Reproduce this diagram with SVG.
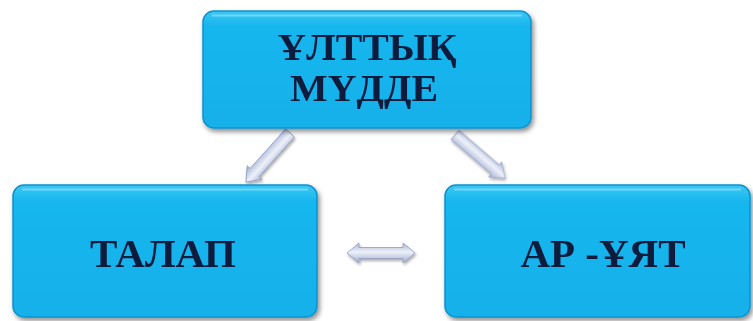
<svg xmlns="http://www.w3.org/2000/svg" width="753" height="321" viewBox="0 0 753 321">
<defs>
<linearGradient id="boxg" x1="0" y1="0" x2="0" y2="1">
<stop offset="0" stop-color="#3cc8f4"/>
<stop offset="0.12" stop-color="#19b6ee"/>
<stop offset="1" stop-color="#14b0ea"/>
</linearGradient>
<linearGradient id="arrg" x1="0" y1="0" x2="0" y2="1">
<stop offset="0" stop-color="#aab6d6"/>
<stop offset="0.45" stop-color="#eef1fa"/>
<stop offset="1" stop-color="#9eabcf"/>
</linearGradient>
<filter id="sh" x="-10%" y="-10%" width="125%" height="130%">
<feGaussianBlur in="SourceAlpha" stdDeviation="2.5"/>
<feOffset dx="2" dy="3" result="b"/>
<feComponentTransfer><feFuncA type="linear" slope="0.45"/></feComponentTransfer>
<feMerge><feMergeNode/><feMergeNode in="SourceGraphic"/></feMerge>
</filter>
<filter id="ash" x="-20%" y="-40%" width="140%" height="180%">
<feGaussianBlur in="SourceAlpha" stdDeviation="1.5"/>
<feOffset dx="1" dy="2"/>
<feComponentTransfer><feFuncA type="linear" slope="0.35"/></feComponentTransfer>
<feMerge><feMergeNode/><feMergeNode in="SourceGraphic"/></feMerge>
</filter>
<path id="arr" d="M0,-6 L53,-6 L53,-10 L66,0 L53,10 L53,6 L0,6 Z"/>
</defs>
<style>
.box{fill:url(#boxg);stroke:#0c93cc;stroke-width:1.5}
.hl{fill:none;stroke:#7fdcf9;stroke-width:2;opacity:0.8}
.lbl{font-family:"Liberation Serif","Times New Roman",serif;font-weight:bold;font-size:41px;fill:#0b1a3c;text-anchor:middle}
.lt{font-size:37px}
.ar{fill:url(#arrg);stroke:#8f9cc2;stroke-width:0.8}
</style>
<g id="connectors" filter="url(#ash)">
<use href="#arr" class="ar" transform="translate(290,133) rotate(131.9)"/>
<use href="#arr" class="ar" transform="translate(455,135) rotate(40.7)"/>
<polygon class="ar" points="347,253 359,243 359,247.5 403,247.5 403,243 415,253 403,263 403,258.5 359,258.5 359,263"/>
</g>
<g id="node-top" filter="url(#sh)">
<rect class="box" x="203" y="11" width="328" height="117" rx="11"/>
<path class="hl" d="M212,15.5 H522"/>
<text class="lbl lt" x="367" y="60" textLength="179" lengthAdjust="spacingAndGlyphs">ҰЛТТЫҚ</text>
<text class="lbl lt" x="364" y="101" textLength="148" lengthAdjust="spacingAndGlyphs">МҮДДЕ</text>
</g>
<g id="node-left" filter="url(#sh)">
<rect class="box" x="13" y="185" width="304" height="132" rx="11"/>
<path class="hl" d="M22,189.5 H308"/>
<text class="lbl" x="163" y="267">ТАЛАП</text>
</g>
<g id="node-right" filter="url(#sh)">
<rect class="box" x="445" y="185" width="305" height="132" rx="11"/>
<path class="hl" d="M454,189.5 H741"/>
<text class="lbl" x="603" y="267">АР -ҰЯТ</text>
</g>
</svg>
